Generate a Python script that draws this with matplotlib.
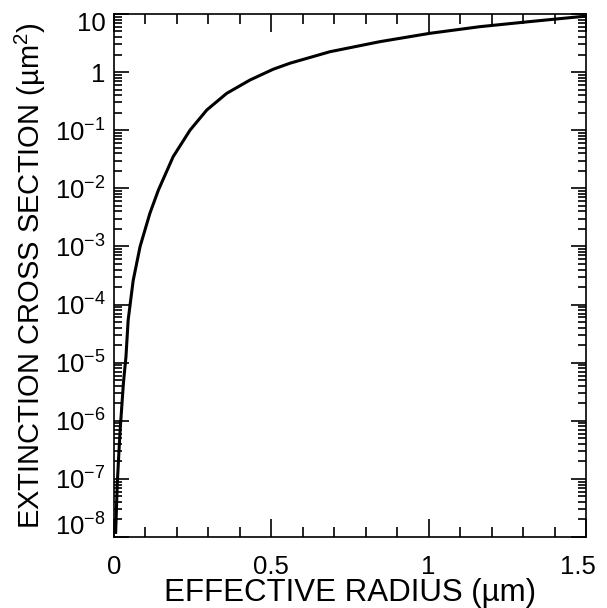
import numpy as np
from matplotlib import pyplot as plt
from matplotlib.ticker import FixedLocator, MultipleLocator, LogLocator, NullFormatter
from matplotlib.transforms import ScaledTranslation

# values
radius = [0.0053, 0.0105, 0.019, 0.030, 0.038, 0.045, 0.061, 0.083, 0.114, 0.141,
          0.188, 0.2415, 0.295, 0.358, 0.432, 0.506, 0.559, 0.686, 0.845, 1.004,
          1.163, 1.322, 1.5]
extinction = [1.2e-8, 8.5e-8, 6.3e-7, 4.5e-6, 1.26e-5, 5.4e-5, 2.6e-4, 1.0e-3, 3.7e-3, 9.3e-3,
              0.035, 0.1, 0.223, 0.43, 0.73, 1.12, 1.42, 2.24, 3.34, 4.65,
              6.05, 7.4, 9.2]

ytick_vals = [1e-8, 1e-7, 1e-6, 1e-5, 1e-4, 1e-3, 1e-2, 1e-1, 1, 10]
ytick_labels = [r'$10^{-8}$', r'$10^{-7}$', r'$10^{-6}$', r'$10^{-5}$', r'$10^{-4}$',
                r'$10^{-3}$', r'$10^{-2}$', r'$10^{-1}$', '1', '10']
xtick_vals = [0, 0.5, 1, 1.5]
xtick_labels = ['0', '0.5', '1', '1.5']

plt.rcParams['font.family'] = 'Liberation Sans'
plt.rcParams['mathtext.fontset'] = 'custom'
plt.rcParams['mathtext.rm'] = 'Liberation Sans'
plt.rcParams['mathtext.it'] = 'Liberation Sans'
plt.rcParams['mathtext.default'] = 'rm'

fig = plt.figure(figsize=(6.07, 6.08), dpi=100)
ax = fig.add_axes([0.1878, 0.1168, 0.9654 - 0.1878, 0.977 - 0.1168])

ax.plot(radius, extinction, color='black', lw=2.2, solid_joinstyle='round')

ax.set_yscale('log')
ax.set_xlim(0, 1.5)
ax.set_ylim(1e-8, 10)

ax.yaxis.set_major_locator(FixedLocator(ytick_vals))
ax.set_yticklabels(ytick_labels)
ax.yaxis.set_minor_locator(LogLocator(base=10, subs=np.arange(2, 10), numticks=20))
ax.yaxis.set_minor_formatter(NullFormatter())

ax.xaxis.set_major_locator(FixedLocator(xtick_vals))
ax.set_xticklabels(xtick_labels)
ax.xaxis.set_minor_locator(MultipleLocator(0.1))

ax.tick_params(axis='both', which='both', direction='in', top=True, right=True,
               labelsize=18.5, width=1.2, color='black')
ax.tick_params(axis='y', which='major', length=11, pad=6)
ax.tick_params(axis='y', which='minor', length=6)
ax.tick_params(axis='x', which='major', length=13, pad=13)
ax.tick_params(axis='x', which='minor', length=7)

for sp in ax.spines.values():
    sp.set_linewidth(1.2)

ax.set_xlabel('EFFECTIVE RADIUS (µm)', fontsize=22.5, labelpad=-1)
ax.set_ylabel('EXTINCTION CROSS SECTION (µm$^2$)', fontsize=21, labelpad=5)

# nudge the end labels inward like the original
ylabels = ax.get_yticklabels()
ylabels[0].set_transform(ylabels[0].get_transform() + ScaledTranslation(0, 12 / 100, fig.dpi_scale_trans))
ylabels[-1].set_transform(ylabels[-1].get_transform() + ScaledTranslation(0, -8 / 100, fig.dpi_scale_trans))
xlabels = ax.get_xticklabels()
xlabels[-1].set_transform(xlabels[-1].get_transform() + ScaledTranslation(-8 / 100, 0, fig.dpi_scale_trans))

plt.savefig('out.png', dpi=100)
